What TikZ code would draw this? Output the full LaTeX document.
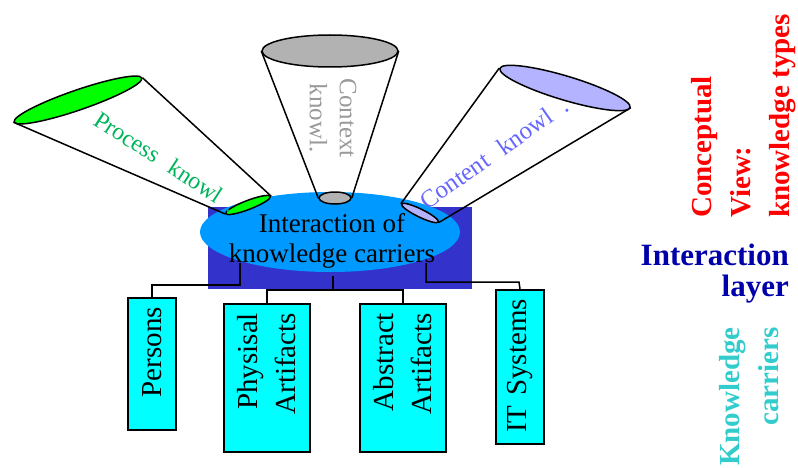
\documentclass[tikz,border=0pt]{standalone}
\usepackage{fontspec}
\setmainfont{Liberation Serif}
\usetikzlibrary{shapes.geometric}

\definecolor{hubblue}{RGB}{51,51,204}
\definecolor{hublight}{RGB}{0,153,255}
\definecolor{procfill}{RGB}{0,255,0}
\definecolor{proctext}{RGB}{0,180,90}
\definecolor{ctxfill}{RGB}{178,178,178}
\definecolor{ctxtext}{RGB}{153,153,153}
\definecolor{contfill}{RGB}{179,179,255}
\definecolor{conttext}{RGB}{102,102,255}
\definecolor{carrierfill}{RGB}{0,255,255}
\definecolor{layerred}{RGB}{255,0,0}
\definecolor{layerblue}{RGB}{0,0,170}
\definecolor{layerteal}{RGB}{51,204,204}

\begin{document}
\begin{tikzpicture}[x=1pt,y=1pt,
  lens/.style={ellipse, draw, line width=1.5pt, inner sep=0pt},
  coneline/.style={line width=1.5pt},
  carrier/.style={draw, fill=carrierfill, line width=2pt, rotate=90, align=right,
    inner xsep=9pt, inner ysep=0pt, font=\fontsize{29}{38}\selectfont},
  link/.style={line width=1.5pt},
  sidelabel/.style={inner sep=0pt, font=\bfseries\fontsize{29}{39}\selectfont}]
\useasboundingbox (0,0) rectangle (798,467);

% interaction layer: dark block with the light ellipse on top
\node[fill=hubblue, minimum width=264pt, minimum height=82pt, inner sep=0pt] (hub) at (340,219) {};
\node[ellipse, fill=hublight, minimum width=260pt, minimum height=80pt, inner sep=0pt] (inter) at (330,235) {};
\node[align=center, font=\fontsize{27}{30}\selectfont, inner sep=0pt] (intertext) at (332,226)
  {Interaction of\\knowledge carriers};

% process knowledge cone
\node[lens, fill=procfill, minimum width=135pt, minimum height=20pt, rotate=19] (procTop) at (78,367) {};
\node[lens, fill=procfill, minimum width=48pt, minimum height=9pt, rotate=21] (procBot) at (248,262) {};
\draw[coneline] (procTop.west) -- (procBot.west) (procTop.east) -- (procBot.east);
\node[rotate=-33, text=proctext, font=\fontsize{24}{30}\selectfont, inner sep=0pt] (proclabel) at (166,305)
  {Process\hspace{0.6em}knowl\hspace{0.45em}.};

% context knowledge cone
\node[lens, fill=ctxfill, minimum width=136pt, minimum height=32pt] (ctxTop) at (330,416) {};
\node[lens, fill=ctxfill, minimum width=32pt, minimum height=12pt] (ctxBot) at (335,269) {};
\draw[coneline] (ctxTop.west) -- (ctxBot.west) (ctxTop.east) -- (ctxBot.east);
\node[rotate=-90, align=center, text=ctxtext, font=\fontsize{25}{30}\selectfont, inner sep=0pt] (ctxlabel) at (333,349)
  {Context\\knowl.};

% content knowledge cone
\node[lens, fill=contfill, minimum width=136pt, minimum height=24pt, rotate=-16.7] (contTop) at (565,379) {};
\node[lens, fill=contfill, minimum width=41pt, minimum height=8pt, rotate=-26] (contBot) at (420,254) {};
\draw[coneline] (contTop.west) -- (contBot.west) (contTop.east) -- (contBot.east);
\node[rotate=35, text=conttext, font=\fontsize{25}{30}\selectfont, inner sep=0pt] (contlabel) at (494,314)
  {Content\hspace{0.6em}knowl\hspace{0.5em}.};

% knowledge carriers
\node[carrier, minimum width=132pt, minimum height=48pt, text width=114pt] (persons) at (152,103) {Persons};
\node[carrier, minimum width=148pt, minimum height=86pt, text width=130pt] (physical) at (267,89) {Physisal\\Artifacts};
\node[carrier, minimum width=148pt, minimum height=86pt, text width=130pt] (abstract) at (403,89) {Abstract\\Artifacts};
\node[carrier, minimum width=154pt, minimum height=48pt, text width=136pt] (itsys) at (520,100) {IT Systems};

% tree from the interaction layer to the carriers
\coordinate (hubL) at (240,204);
\coordinate (hubR) at (426,204);
\coordinate (hubC) at (333,191);
\coordinate (joinL) at (152,182);
\coordinate (joinC) at (333,177);
\coordinate (joinR) at (519,185);
\draw[link] (hubL) |- (joinL) -- (persons.east);
\draw[link] (hubR) |- (joinR) -- (itsys.east);
\draw[link] (hubC) -- (joinC);
\draw[link] (physical.east) |- (joinC) -| (abstract.east);

% layer captions
\node[sidelabel, rotate=90, align=left, text=layerred, anchor=west] (conceptual) at (744,249)
  {Conceptual\\View:\\knowledge types};
\node[sidelabel, align=right, text=layerblue, font=\bfseries\fontsize{31}{31}\selectfont, anchor=east] (layer) at (789,193)
  {Interaction\\layer};
\node[sidelabel, rotate=90, align=right, text=layerteal, anchor=east] (carriers) at (749,140)
  {Knowledge\\carriers};
\end{tikzpicture}
\end{document}
